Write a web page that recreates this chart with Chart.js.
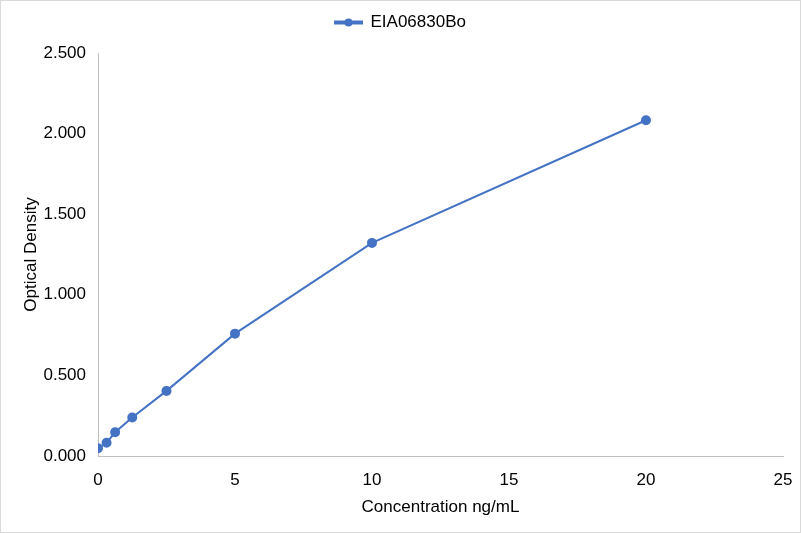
<!DOCTYPE html>
<html>
<head>
<meta charset="utf-8">
<script src="https://cdn.jsdelivr.net/npm/chart.js@4/dist/chart.umd.min.js"></script>
<style>
  html, body { margin: 0; padding: 0; background: #fff; }
  #chart { display: block; }
</style>
</head>
<body>
<canvas id="chart" width="801" height="533"></canvas>
<script>
// standard curve values
const concentrations = [0, 0.3125, 0.625, 1.25, 2.5, 5, 10, 20];
const densities = [0.048, 0.082, 0.147, 0.239, 0.404, 0.759, 1.322, 2.083];
const seriesName = "EIA06830Bo";
const xTitle = "Concentration ng/mL";
const yTitle = "Optical Density";

const lineColor = "#4472C4";
const axisColor = "#bfbfbf";
const font = { family: "'Liberation Sans', Arial, sans-serif", size: 17 };

// frame round the whole picture, and the dot over the legend line
const extras = {
  id: "extras",
  afterDraw(chart) {
    const ctx = chart.ctx;
    ctx.save();
    ctx.strokeStyle = "#d9d9d9";
    ctx.lineWidth = 1;
    ctx.strokeRect(0.5, 0.5, chart.width - 1, chart.height - 1);
    const box = chart.legend.legendHitBoxes[0];
    if (box) {
      const bw = chart.legend.options.labels.boxWidth;
      ctx.fillStyle = lineColor;
      ctx.beginPath();
      ctx.arc(box.left + bw / 2, box.top + box.height / 2, 4, 0, Math.PI * 2);
      ctx.fill();
    }
    ctx.restore();
  },
};

new Chart(document.getElementById("chart"), {
  type: "line",
  data: {
    datasets: [
      {
        label: seriesName,
        data: concentrations.map((c, i) => ({ x: c, y: densities[i] })),
        borderColor: lineColor,
        backgroundColor: lineColor,
        borderWidth: 2,
        pointRadius: 4,
        pointHoverRadius: 4,
        tension: 0,
      },
    ],
  },
  options: {
    responsive: false,
    animation: false,
    devicePixelRatio: 1,
    layout: { padding: { top: 2, right: 0, bottom: 0, left: 0 } },
    plugins: {
      tooltip: { enabled: false },
      // empty title used as a spacer between legend and plot
      title: {
        display: true,
        text: "",
        weight: 500,
        font: { size: 10 },
        padding: 0,
      },
      legend: {
        position: "top",
        labels: {
          color: "#000",
          font: font,
          boxWidth: 27,
          boxHeight: 2,
          padding: 12,
        },
      },
    },
    scales: {
      x: {
        type: "linear",
        min: 0,
        max: 25,
        ticks: { stepSize: 5, color: "#000", font: font, padding: 6 },
        grid: { display: false },
        border: { display: true, color: axisColor, width: 1 },
        title: {
          display: true,
          text: xTitle,
          color: "#000",
          font: font,
          padding: { top: 4, bottom: 15 },
        },
        afterFit(s) { s.height = 77; },
      },
      y: {
        min: 0,
        max: 2.5,
        ticks: {
          stepSize: 0.5,
          color: "#000",
          font: font,
          padding: 4,
          callback: (v) => v.toFixed(3),
        },
        grid: { display: false },
        border: { display: true, color: axisColor, width: 1 },
        title: {
          display: true,
          text: yTitle,
          color: "#000",
          font: font,
          padding: { top: 21, bottom: 0 },
        },
        afterFit(s) { s.width = 98; },
      },
      // blank right-hand gutter so the legend stays centred on the page
      gutter: {
        position: "right",
        display: true,
        ticks: { display: false },
        grid: { display: false },
        border: { display: false },
        afterFit(s) { s.width = 18; },
      },
    },
  },
  plugins: [extras],
});
</script>
</body>
</html>
